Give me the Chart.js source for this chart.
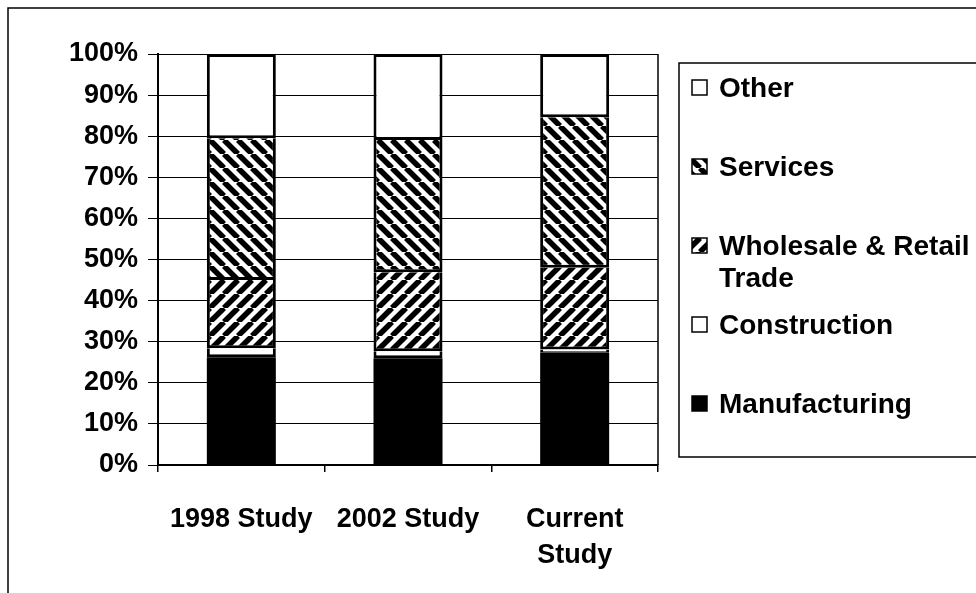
<!DOCTYPE html>
<html>
<head>
<meta charset="utf-8">
<script src="https://cdn.jsdelivr.net/npm/chart.js@4"></script>
<style>
  body { margin: 0; background: #fff; overflow: hidden; }
  #wrap { position: relative; width: 976px; height: 593px; }
</style>
</head>
<body>
<div id="wrap"><canvas id="sector-chart"></canvas></div>
<script>
const studies = ['1998 Study', '2002 Study', ['Current', 'Study']];
const manufacturing = [26.2, 26.0, 27.3];
const construction = [2.2, 1.7, 0.8];
const wholesale = [16.6, 19.2, 19.9];
const services = [34.5, 32.2, 36.6];
const other = [20.5, 20.9, 15.4];
const y_ticks = [0, 10, 20, 30, 40, 50, 60, 70, 80, 90, 100];

function stripes(dir) {
    const s = 14;
    const c = document.createElement('canvas');
    c.width = s;
    c.height = s;
    const g = c.getContext('2d');
    g.fillStyle = '#fff';
    g.fillRect(0, 0, s, s);
    g.strokeStyle = '#000';
    g.lineWidth = 5.5;
    for (let k = -1; k <= 1; k++) {
        g.beginPath();
        if (dir == '\\') {
            g.moveTo(k * s, 0);
            g.lineTo(k * s + s, s);
        } else {
            g.moveTo(k * s, s);
            g.lineTo(k * s + s, 0);
        }
        g.stroke();
    }
    return g.createPattern(c, 'repeat');
}

const services_fill = stripes('\\');
const wholesale_fill = stripes('/');

function bar_set(label, data, fill, edge) {
    let border = { top: 0, right: 3, bottom: 3, left: 3 };
    if (edge == 'none') border = 0;
    if (edge == 'top') border = 3;
    return {
        label: label,
        data: data,
        backgroundColor: fill,
        borderColor: '#000',
        borderWidth: border,
        borderSkipped: false,
        barPercentage: 0.414,
        categoryPercentage: 1
    };
}

// frame, plot border and the legend box on the right
const decorations = {
    id: 'decorations',
    afterDraw(chart) {
        const ctx = chart.ctx;
        const area = chart.chartArea;
        ctx.save();
        ctx.strokeStyle = '#000';

        ctx.lineWidth = 1.5;
        ctx.beginPath();
        ctx.moveTo(8, 593);
        ctx.lineTo(8, 8);
        ctx.lineTo(976, 8);
        ctx.stroke();

        ctx.beginPath();
        ctx.moveTo(area.right, area.top);
        ctx.lineTo(area.right, area.bottom);
        ctx.stroke();

        const left = area.right + 21;
        const top = 63;
        const bottom = 457;
        ctx.beginPath();
        ctx.moveTo(1000, top);
        ctx.lineTo(left, top);
        ctx.lineTo(left, bottom);
        ctx.lineTo(1000, bottom);
        ctx.stroke();

        ctx.font = "bold 28px 'Liberation Sans', Arial, sans-serif";
        ctx.textBaseline = 'alphabetic';
        const sets = chart.data.datasets.slice().reverse();
        sets.forEach((ds, i) => {
            const cy = top + 24 + i * 79;
            ctx.fillStyle = ds.backgroundColor;
            ctx.fillRect(left + 13, cy - 7, 15, 15);
            ctx.lineWidth = 1.5;
            ctx.strokeRect(left + 13, cy - 7, 15, 15);

            ctx.fillStyle = '#000';
            const words = ds.label.split(' ');
            let lines = [];
            let line = '';
            words.forEach(w => {
                const test = line ? line + ' ' + w : w;
                if (ctx.measureText(test).width > 258 && line) {
                    lines.push(line);
                    line = w;
                } else {
                    line = test;
                }
            });
            lines.push(line);
            lines.forEach((t, j) => {
                ctx.fillText(t, left + 40, cy + 10 + j * 32);
            });
        });
        ctx.restore();
    }
};

Chart.defaults.font.family = "'Liberation Sans', Arial, sans-serif";
Chart.defaults.font.weight = 'bold';
Chart.defaults.font.size = 27;
Chart.defaults.color = '#000';

new Chart(document.getElementById('sector-chart'), {
    type: 'bar',
    data: {
        labels: studies,
        datasets: [
            bar_set('Manufacturing', manufacturing, '#000', 'none'),
            bar_set('Construction', construction, '#fff', 'sides'),
            bar_set('Wholesale & Retail Trade', wholesale, wholesale_fill, 'sides'),
            bar_set('Services', services, services_fill, 'sides'),
            bar_set('Other', other, '#fff', 'top')
        ]
    },
    options: {
        responsive: true,
        maintainAspectRatio: false,
        animation: false,
        layout: {
            padding: { left: 0, top: 54, right: 318, bottom: 0 }
        },
        scales: {
            x: {
                stacked: true,
                afterFit: (scale) => { scale.height = 128; },
                grid: {
                    offset: true,
                    drawOnChartArea: false,
                    color: '#000',
                    tickLength: 7,
                    lineWidth: 1.5
                },
                border: { display: true, color: '#000', width: 2 },
                ticks: {
                    maxRotation: 0,
                    autoSkip: false,
                    padding: 30,
                    font: { size: 27, lineHeight: 1.32 }
                }
            },
            y: {
                stacked: true,
                min: 0,
                max: 100,
                afterFit: (scale) => { scale.width = 158; },
                afterBuildTicks: (scale) => {
                    scale.ticks = y_ticks.map(v => ({ value: v }));
                },
                grid: {
                    color: '#000',
                    lineWidth: 1,
                    tickLength: 10
                },
                border: { display: true, color: '#000', width: 2 },
                ticks: {
                    padding: 10,
                    callback: (v) => v + '%'
                }
            }
        },
        plugins: {
            legend: { display: false },
            tooltip: { enabled: false }
        }
    },
    plugins: [decorations]
});
</script>
</body>
</html>
